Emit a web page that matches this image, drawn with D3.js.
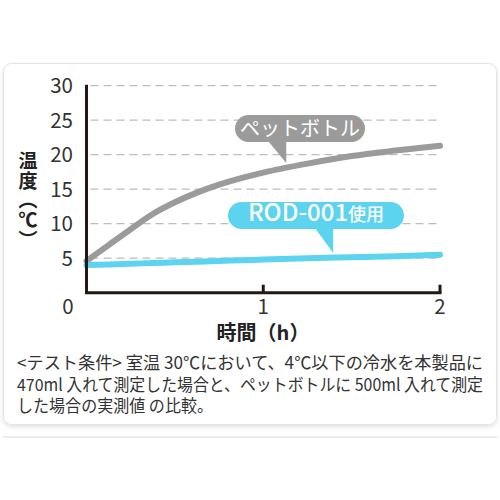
<!DOCTYPE html>
<html><head><meta charset="utf-8">
<script src="https://cdn.jsdelivr.net/npm/d3@7"></script>
<style>
html,body{margin:0;padding:0;background:#fff;}
svg{display:block;font-family:"Noto Sans CJK JP","Noto Sans",sans-serif;}
</style></head>
<body>
<svg id="chart" width="500" height="500"></svg>
<script>
const hours = [0, 0.125, 0.25, 0.375, 0.5, 0.625, 0.75, 0.875, 1, 1.25, 1.5, 1.75, 2];
const petBottle = [4.6, 6.9, 9.2, 11.4, 13.1, 14.5, 15.65, 16.6, 17.4, 18.7, 19.8, 20.6, 21.3];
const rod001 = [4.0, 4.1, 4.2, 4.3, 4.4, 4.5, 4.6, 4.7, 4.8, 5.0, 5.15, 5.3, 5.5];
const yTicks = [5, 10, 15, 20, 25, 30];
const xTicks = [0, 1, 2];
const seriesNames = ["ペットボトル", "ROD-001"];
const yTitle = "温度（℃）";
const xTitle = "時間（h）";
const note = [
  "<テスト条件> 室温 30℃において、4℃以下の冷水を本製品に",
  "470ml 入れて測定した場合と、ペットボトルに 500ml 入れて測定",
  "した場合の実測値 の比較。"
];

const svg = d3.select("#chart");
const defs = svg.append("defs");
const f = defs.append("filter").attr("id","sh").attr("x","-5%").attr("y","-5%").attr("width","110%").attr("height","115%");
f.append("feDropShadow").attr("dx",0).attr("dy",2).attr("stdDeviation",2).attr("flood-color","#000").attr("flood-opacity",0.12);

// card
svg.append("rect").attr("x",3.5).attr("y",63.5).attr("width",493).attr("height",361)
  .attr("rx",8).attr("fill","#fff").attr("stroke","#e4e4e4").attr("filter","url(#sh)");
svg.append("line").attr("x1",3).attr("x2",497).attr("y1",437).attr("y2",437)
  .attr("stroke","#ececec").attr("stroke-width",2);

const x = d3.scaleLinear().domain([0,2]).range([86.5,440]);
const y = d3.scaleLinear().domain([0,30]).range([292.7,85.7]);

// gridlines
svg.append("g").selectAll("line").data(yTicks).join("line")
  .attr("x1",x(0)+4).attr("x2",437).attr("y1",d=>y(d)).attr("y2",d=>y(d))
  .attr("stroke","#bdbdbd").attr("stroke-width",1.3).attr("stroke-dasharray","8,5");

// y tick labels
svg.append("g").selectAll("text").data(yTicks).join("text")
  .attr("x",73).attr("y",d=>y(d)).attr("dy","0.36em").attr("text-anchor","end")
  .attr("font-size",20.5).attr("fill","#333").text(d=>d);
// x tick labels
svg.append("g").selectAll("text").data(xTicks).join("text")
  .attr("x",d=> d===0 ? 68 : x(d)).attr("y",307).attr("dy","0.36em").attr("text-anchor","middle")
  .attr("font-size",20.5).attr("fill","#333").text(d=>d);
// x ticks (inward)
svg.append("g").selectAll("line").data(xTicks.filter(d=>d>0)).join("line")
  .attr("x1",d=>x(d)).attr("x2",d=>x(d)).attr("y1",y(0)).attr("y2",y(0)-8)
  .attr("stroke","#231815").attr("stroke-width",3);

// lines
const line = d3.line().x((d,i)=>x(hours[i])).y(d=>y(d)).curve(d3.curveMonotoneX);
svg.append("path").attr("d",line(petBottle)).attr("fill","none")
  .attr("stroke","#9b9b9b").attr("stroke-width",6).attr("stroke-linecap","round").attr("stroke-linejoin","round");
svg.append("path").attr("d",line(rod001)).attr("fill","none")
  .attr("stroke","#5cd3ef").attr("stroke-width",6).attr("stroke-linecap","round").attr("stroke-linejoin","round");

// axes
svg.append("path").attr("d",`M${x(0)},${y(30)-1}V${y(0)}H${x(2)+1.5}`)
  .attr("fill","none").attr("stroke","#231815").attr("stroke-width",3);

// callouts
function callout(tipX, tipY, bx, by, bw, bh, color, build){
  const g = svg.append("g");
  g.append("rect").attr("x",bx).attr("y",by).attr("width",bw).attr("height",bh)
    .attr("rx",bh/2).attr("fill",color);
  g.append("path").attr("d",`M${tipX-19},${by+bh-2}L${tipX},${tipY}L${tipX},${by+bh-2}Z`).attr("fill",color);
  build(g);
}
const pT = 1.13;
callout(x(pT), 163, 235, 115, 130, 27, "#9b9b9b", g=>{
  g.append("text").attr("x",300).attr("y",128.5).attr("dy","0.36em").attr("text-anchor","middle")
    .attr("font-size",20).attr("fill","#fff").text(seriesNames[0]);
});
const rT = 1.39;
callout(x(rT)+1, 253, 228, 202, 176, 27, "#5cd3ef", g=>{
  const t = g.append("text").attr("x",316).attr("y",215.5).attr("dy","0.36em").attr("text-anchor","middle")
    .attr("fill","#fff");
  t.append("tspan").attr("font-size",24).attr("font-weight",500).text(seriesNames[1]);
  t.append("tspan").attr("font-size",18).attr("font-weight",500).text("使用");
});

// y title vertical
svg.append("text").attr("x",28).attr("y",151)
  .style("writing-mode","vertical-rl").style("letter-spacing","0.8px")
  .attr("font-size",19).attr("font-weight",700).attr("fill","#222")
  .text(yTitle);

// x title
svg.append("text").attr("x",263).attr("y",333).attr("dy","0.36em").attr("text-anchor","middle")
  .attr("font-size",20).attr("font-weight",700).attr("fill","#222").text(xTitle);

// note
const noteLen = [466, 466, 196];
svg.append("g").selectAll("text").data(note).join("text")
  .attr("x",17).attr("y",(d,i)=>363+i*21.5).attr("dy","0.36em")
  .attr("font-size",17).attr("fill","#333")
  .attr("textLength",(d,i)=>noteLen[i]).attr("lengthAdjust","spacingAndGlyphs")
  .text(d=>d);
</script>
</body></html>
